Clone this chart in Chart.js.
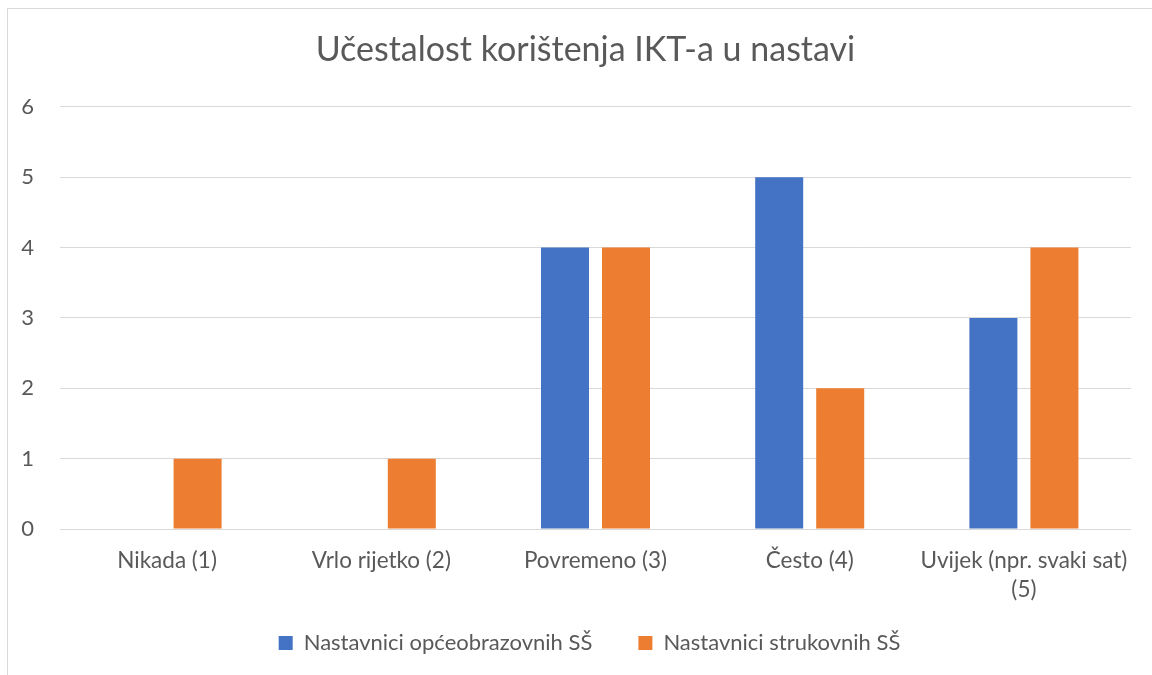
<!DOCTYPE html>
<html>
<head>
<meta charset="utf-8">
<script src="https://cdn.jsdelivr.net/npm/chart.js@4/dist/chart.umd.min.js"></script>
<style>
  html, body { margin: 0; padding: 0; background: #fff; overflow: hidden; }
  #frame { position: absolute; left: 7px; top: 8px; width: 1300px; height: 800px; border: 1px solid #d9d9d9; box-sizing: border-box; }
  #wrap { position: absolute; left: 0; top: 0; width: 1152px; height: 675px; }
</style>
</head>
<body>
<div id="frame"></div>
<div id="wrap"><canvas id="c" width="1152" height="675"></canvas></div>
<script>
const chartTitle = 'Učestalost korištenja IKT-a u nastavi';
const categories = ['Nikada (1)', 'Vrlo rijetko (2)', 'Povremeno (3)', 'Često (4)', ['Uvijek (npr. svaki sat)', '(5)']];
const seriesNames = ['Nastavnici općeobrazovnih SŠ', 'Nastavnici strukovnih SŠ'];
const opceobrazovni = [0, 0, 4, 5, 3];
const strukovni = [1, 1, 4, 2, 4];
const yTicks = [0, 1, 2, 3, 4, 5, 6];

const TXT = '#595959';
const FONT = 'Lato';

const shiftPlugin = {
  id: 'shift',
  afterLayout(chart) {
    const t = chart.titleBlock;
    if (t) { t.left += 20; t.right += 20; }
    const l = chart.legend;
    if (l) { l.left += 24; l.right += 24; l.top -= 39; }
  }
};

new Chart(document.getElementById('c'), {
  type: 'bar',
  data: {
    labels: categories,
    datasets: [
      { label: seriesNames[0], data: opceobrazovni, backgroundColor: '#4472C4' },
      { label: seriesNames[1], data: strukovni, backgroundColor: '#ED7D31' }
    ]
  },
  options: {
    responsive: false,
    animation: false,
    devicePixelRatio: 1,
    layout: { padding: { left: 0, right: 21, top: 0, bottom: 0 } },
    datasets: { bar: { categoryPercentage: 0.5696, barPercentage: 0.787 } },
    plugins: {
      title: {
        display: true, text: chartTitle, color: TXT,
        font: { family: FONT, size: 34, weight: 'normal', lineHeight: 1.2 },
        padding: { top: 30, bottom: 36 }
      },
      legend: {
        position: 'bottom',
        maxHeight: 50,
        labels: { color: TXT, font: { family: FONT, size: 22 }, boxWidth: 14, boxHeight: 14, padding: 46 }
      },
      tooltip: { enabled: false }
    },
    scales: {
      x: {
        grid: { display: false, drawTicks: false },
        border: { display: false },
        ticks: { color: TXT, font: { family: FONT, size: 22.5, lineHeight: 1.29 }, padding: 17.5, maxRotation: 0, autoSkip: false },
        afterFit(s) { s.height = 96; }
      },
      y: {
        min: 0, max: 6,
        afterBuildTicks(s) { s.ticks = yTicks.map(v => ({ value: v })); },
        grid: { color: '#d9d9d9', lineWidth: 1, drawTicks: false },
        border: { display: false },
        ticks: { color: TXT, font: { family: FONT, size: 22 }, padding: 26 },
        afterFit(s) { s.width = 60; }
      }
    }
  },
  plugins: [shiftPlugin]
});
</script>
</body>
</html>
